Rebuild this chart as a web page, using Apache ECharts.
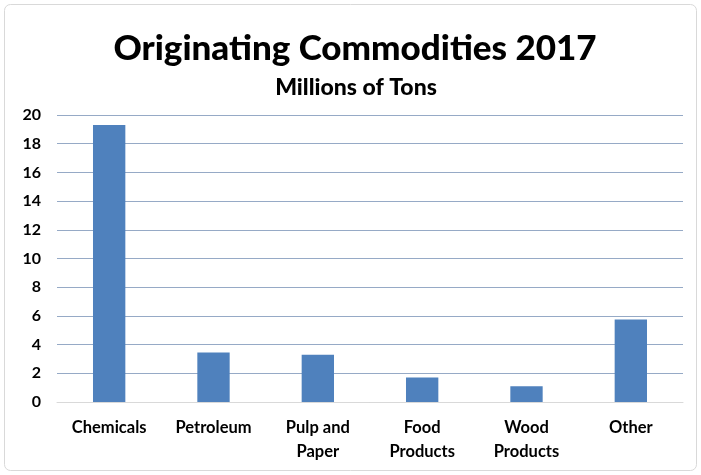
<!DOCTYPE html>
<html><head><meta charset="utf-8">
<script src="https://cdn.jsdelivr.net/npm/echarts@6/dist/echarts.min.js"></script>
<style>html,body{margin:0;padding:0;background:#fff}#c{width:701px;height:475px}</style>
</head><body><div id="c"></div>
<script>
const categories = ['Chemicals', 'Petroleum', 'Pulp and\nPaper', 'Food\nProducts', 'Wood\nProducts', 'Other'];
const values = [19.3, 3.45, 3.3, 1.7, 1.1, 5.75];
const titleText = 'Originating Commodities 2017';
const subtitleText = 'Millions of Tons';
const FONT = 'Lato';
const chart = echarts.init(document.getElementById('c'));
chart.setOption({
  animation: false,
  backgroundColor: '#fff',
  graphic: [
    {type:'rect', shape:{x:4.5,y:4.5,width:692,height:466,r:6}, style:{fill:'none', stroke:'#d9d9d9', lineWidth:1}, silent:true},
    {type:'text', x:355, y:49, style:{text: titleText, fontFamily:FONT, fontWeight:900, fontSize:35, fill:'#000', align:'center', verticalAlign:'middle'}, silent:true},
    {type:'text', x:356, y:88, style:{text: subtitleText, fontFamily:FONT, fontWeight:900, fontSize:23, fill:'#000', align:'center', verticalAlign:'middle'}, silent:true}
  ],
  grid: {left: 57, right: 18, top: 115, bottom: 73, containLabel: false},
  xAxis: {
    type: 'category', data: categories,
    axisLine: {lineStyle:{color:'#d9d9d9'}}, axisTick:{show:false},
    axisLabel: {fontFamily:FONT, fontWeight:'bold', fontSize:16.5, color:'#000', margin:14, lineHeight:24, interval:0}
  },
  yAxis: {
    type: 'value', min: 0, max: 20, interval: 2,
    axisLine:{show:false}, axisTick:{show:false},
    splitLine:{lineStyle:{color:'#96aac6', width:1}},
    axisLabel:{fontFamily:FONT, fontWeight:'bold', fontSize:16, color:'#000', margin:16}
  },
  series: [{type:'bar', data: values, barWidth: '31%', itemStyle:{color:'#4f81bd'}}]
});
</script></body></html>
